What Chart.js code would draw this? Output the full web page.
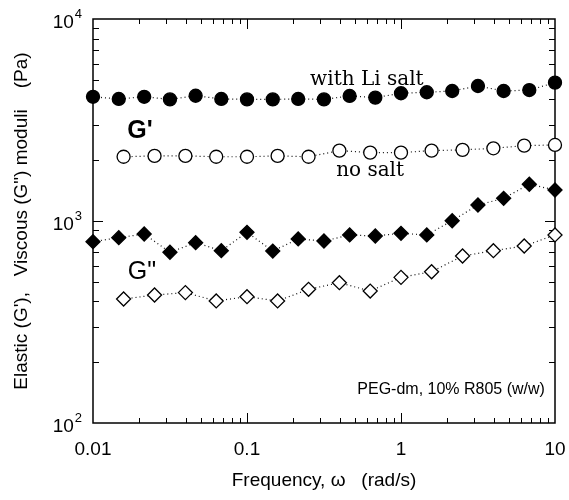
<!DOCTYPE html>
<html lang="en">
<head>
<meta charset="UTF-8">
<title>G' and G'' vs frequency</title>
<script src="https://cdn.jsdelivr.net/npm/chart.js"></script>
<style>
  body { margin: 0; background: #fff; }
  canvas { display: block; }
</style>
</head>
<body>
<canvas id="moduli" width="569" height="500"></canvas>
<script>
// frequencies (rad/s) - two sweeps, 6 and 5 points per decade
const freqLi = [0.01, 0.0147, 0.0215, 0.0316, 0.0464, 0.0681, 0.1, 0.147, 0.215, 0.316, 0.464, 0.681, 1, 1.47, 2.15, 3.16, 4.64, 6.81, 10];
const freqNo = [0.0158, 0.0251, 0.0398, 0.0631, 0.1, 0.158, 0.251, 0.398, 0.631, 1, 1.58, 2.51, 3.98, 6.31, 10];

// moduli in Pa
const gElasticLi = [4120, 4020, 4120, 4000, 4170, 4020, 4000, 4000, 4020, 4000, 4160, 4080, 4290, 4340, 4400, 4660, 4400, 4450, 4840];
const gElasticNo = [2080, 2100, 2100, 2080, 2080, 2100, 2080, 2230, 2180, 2180, 2230, 2250, 2290, 2360, 2380];
const gViscousLi = [790, 827, 862, 700, 781, 713, 879, 710, 815, 796, 853, 843, 869, 853, 1003, 1200, 1295, 1520, 1424];
const gViscousNo = [411, 430, 442, 402, 422, 402, 459, 495, 450, 526, 561, 671, 713, 752, 853];

const xTickVals = [0.01, 0.1, 1, 10];
const xTickText = ['0.01', '0.1', '1', '10'];
const yTickExp = [2, 3, 4];

const notes = [
  { text: 'with Li salt', x: 0.60, y: 4990, font: '20px "DejaVu Serif"', align: 'center' },
  { text: 'no salt', x: 0.63, y: 1768, font: '20px "DejaVu Serif"', align: 'center' },
  { text: "G'", x: 0.0202, y: 2790, font: 'bold 25px "Liberation Sans"', align: 'center' },
  { text: 'G"', x: 0.0208, y: 559, font: '25px "Liberation Sans"', align: 'center' },
  { text: 'PEG-dm, 10% R805 (w/w)', x: 8.6, y: 146, font: '16px "Liberation Sans"', align: 'right' }
];

const pts = (xs, ys) => xs.map((x, i) => ({ x: x, y: ys[i] }));

function series(xs, ys, shape, filled) {
  return {
    data: pts(xs, ys),
    borderColor: '#111',
    borderWidth: 1.2,
    borderDash: [1, 3],
    pointStyle: shape,
    pointRadius: shape === 'circle' ? 6.5 : 7,
    pointBorderWidth: 1.3,
    pointBorderColor: '#000',
    pointBackgroundColor: filled ? '#000' : '#fff',
    tension: 0,
    clip: false
  };
}

// inward ticks on all four sides, the box, tick labels and the notes
const decor = {
  id: 'decor',
  beforeDatasetsDraw(chart) {
    const { ctx, chartArea: a, scales: { x, y } } = chart;
    ctx.save();
    ctx.strokeStyle = '#000';
    ctx.lineWidth = 1;
    ctx.beginPath();
    for (let e = -2; e <= 1; e++) {
      for (let m = 1; m <= 9; m++) {
        const v = m * Math.pow(10, e);
        if (v <= 0.0100001 || v >= 9.9999) continue;
        const px = Math.round(x.getPixelForValue(v)) + 0.5;
        const len = m === 1 ? 10 : 5;
        ctx.moveTo(px, a.bottom); ctx.lineTo(px, a.bottom - len);
        ctx.moveTo(px, a.top); ctx.lineTo(px, a.top + len);
      }
    }
    for (let e = 2; e <= 3; e++) {
      for (let m = 1; m <= 9; m++) {
        const v = m * Math.pow(10, e);
        if (v <= 100.001 || v >= 9999) continue;
        const py = Math.round(y.getPixelForValue(v)) + 0.5;
        const len = m === 1 ? 10 : 6;
        ctx.moveTo(a.left, py); ctx.lineTo(a.left + len, py);
        ctx.moveTo(a.right, py); ctx.lineTo(a.right - len, py);
      }
    }
    ctx.stroke();
    ctx.lineWidth = 1.5;
    ctx.strokeRect(a.left, a.top, a.right - a.left, a.bottom - a.top);

    ctx.fillStyle = '#000';
    ctx.textBaseline = 'alphabetic';
    // x tick labels
    ctx.font = '19px "Liberation Sans"';
    ctx.textAlign = 'center';
    xTickVals.forEach((v, i) => {
      ctx.fillText(xTickText[i], x.getPixelForValue(v), a.bottom + 32);
    });
    // y tick labels as 10 with superscript
    yTickExp.forEach(e => {
      const py = y.getPixelForValue(Math.pow(10, e));
      const sup = String(e);
      ctx.font = '13px "Liberation Sans"';
      const sw = ctx.measureText(sup).width;
      ctx.textAlign = 'right';
      ctx.fillText(sup, a.left - 11, py - 1);
      ctx.font = '19px "Liberation Sans"';
      ctx.fillText('10', a.left - 12 - sw, py + 9);
    });
    ctx.restore();
  },
  afterDatasetsDraw(chart) {
    const { ctx, scales: { x, y } } = chart;
    ctx.save();
    ctx.fillStyle = '#000';
    ctx.textBaseline = 'middle';
    notes.forEach(n => {
      ctx.font = n.font;
      ctx.textAlign = n.align;
      ctx.fillText(n.text, x.getPixelForValue(n.x), y.getPixelForValue(n.y));
    });
    ctx.restore();
  }
};

new Chart(document.getElementById('moduli'), {
  type: 'line',
  data: {
    datasets: [
      series(freqLi, gElasticLi, 'circle', true),
      series(freqNo, gElasticNo, 'circle', false),
      series(freqLi, gViscousLi, 'rectRot', true),
      series(freqNo, gViscousNo, 'rectRot', false)
    ]
  },
  options: {
    responsive: false,
    animation: false,
    layout: { padding: { left: 0, right: 14, top: 19, bottom: 0 } },
    plugins: { legend: { display: false }, tooltip: { enabled: false } },
    scales: {
      x: {
        type: 'logarithmic',
        min: 0.01,
        max: 10,
        grid: { display: false, drawTicks: false },
        border: { display: false },
        ticks: { display: false },
        afterFit: s => { s.height = 77; },
        title: {
          display: true,
          text: 'Frequency, \u03c9   (rad/s)',
          color: '#000',
          font: { family: 'Liberation Sans', size: 19 },
          padding: { bottom: 8 }
        }
      },
      y: {
        type: 'logarithmic',
        min: 100,
        max: 10000,
        grid: { display: false, drawTicks: false },
        border: { display: false },
        ticks: { display: false },
        afterFit: s => { s.width = 93; },
        title: {
          display: true,
          text: 'Elastic (G\'),   Viscous (G") moduli    (Pa)',
          color: '#000',
          font: { family: 'Liberation Sans', size: 19 },
          padding: { top: 10 }
        }
      }
    }
  },
  plugins: [decor]
});
</script>
</body>
</html>
